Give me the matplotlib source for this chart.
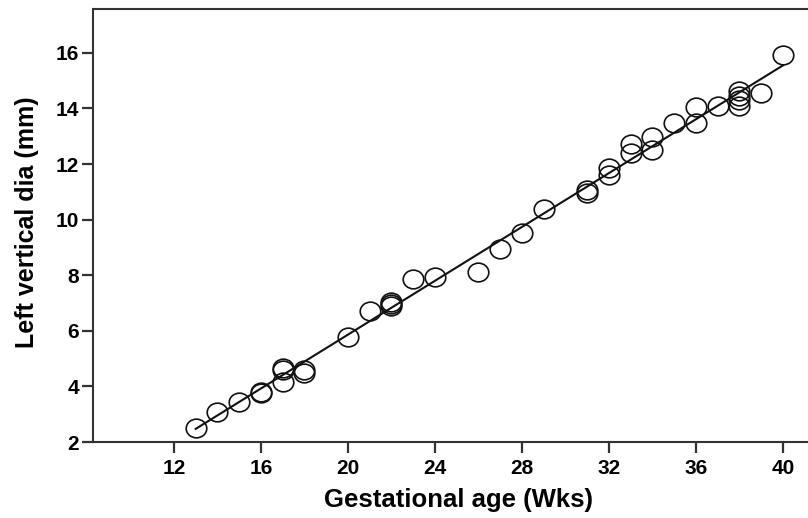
import numpy as np
import matplotlib
matplotlib.use("Agg")
import matplotlib.pyplot as plt
from matplotlib.path import Path
from matplotlib.transforms import Affine2D

plt.rcParams['font.family'] = ['Liberation Sans', 'DejaVu Sans']

gest_age = [13, 14, 15, 16, 16, 17, 17, 17, 18, 18, 20, 21, 22, 22, 22, 23, 24,
            26, 27, 28, 29, 31, 31, 32, 32, 33, 33, 34, 34, 35, 36, 36, 37,
            38, 38, 38, 38, 39, 40]
left_vert_dia = [2.5, 3.08, 3.45, 3.75, 3.8, 4.16, 4.59, 4.65, 4.5, 4.58, 5.78, 6.72,
                 6.88, 6.95, 7.04, 7.88, 7.94, 8.1, 8.94, 9.52, 10.38, 10.96, 11.06,
                 11.6, 11.86, 12.4, 12.72, 12.5, 12.97, 13.47, 13.47, 14.05, 14.1,
                 14.1, 14.3, 14.45, 14.62, 14.55, 15.92]
xticks = [12, 16, 20, 24, 28, 32, 36, 40]
yticks = [2, 4, 6, 8, 10, 12, 14, 16]

fig = plt.figure(figsize=(8.08, 5.18), dpi=100)
ax = fig.add_axes([93/808, 1-442/518, 1-93/808, (442-9)/518])

circ = Path.unit_circle()
ell = Path(Affine2D().scale(1.1, 1.0).transform(circ.vertices), circ.codes)

x = np.array(gest_age, float)
y = np.array(left_vert_dia, float)
ax.plot(x, y, linestyle='none', marker=ell, markersize=14.8,
        markerfacecolor='none', markeredgecolor='#111111', markeredgewidth=1.2)

b, a = np.polyfit(x, y, 1)
xs = np.array([x.min(), x.max()])
ax.plot(xs, a + b*xs, color='#111111', lw=1.5)

ax.set_xlim(8.28, 41.15)
ax.set_ylim(2, 17.58)
ax.set_xticks(xticks)
ax.set_yticks(yticks)
ax.tick_params(direction='out', length=8, width=1.6, colors='#333333', labelsize=15)
ax.tick_params(axis='x', pad=4)
ax.tick_params(axis='y', pad=2)
for lab in ax.get_xticklabels() + ax.get_yticklabels():
    lab.set_fontweight('bold')
    lab.set_color('black')
for s in ['left', 'bottom', 'top']:
    ax.spines[s].set_linewidth(1.5)
    ax.spines[s].set_color('#333333')
ax.spines['right'].set_visible(False)

ax.set_xlabel('Gestational age (Wks)', fontsize=18.5, fontweight='bold')
ax.set_ylabel('Left vertical dia (mm)', fontsize=18, fontweight='bold')
ax.xaxis.label.set_horizontalalignment('center')
ax.xaxis.label.set_verticalalignment('center')
ax.xaxis.set_label_coords((458-93)/715, -(500-442)/433)
ax.yaxis.label.set_verticalalignment('center')
ax.yaxis.set_label_coords(-(93-27)/715, (442-222)/433)

fig.savefig('out.png', dpi=100)
